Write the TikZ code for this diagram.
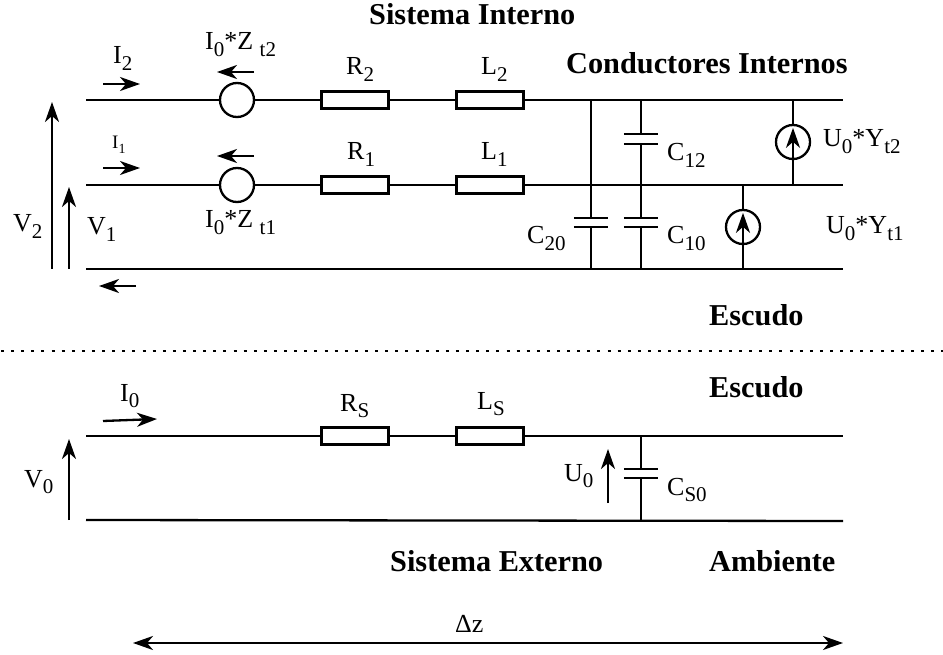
\documentclass[tikz,border=0pt]{standalone}
\usepackage{fontspec}
\setmainfont{Liberation Serif}
\usetikzlibrary{arrows.meta}
\newcommand\subs[1]{\raisebox{-0.25em}{\fontsize{21}{21}\selectfont #1}}
\tikzset{
  wire/.style={line width=2.3pt},
  res/.style={draw,line width=2.3pt,fill=white,minimum width=67pt,minimum height=17pt,inner sep=0pt},
  src/.style={draw,line width=2.3pt,circle,fill=white,minimum size=34pt,inner sep=0pt},
  capbox/.style={minimum width=34pt,minimum height=9pt,inner sep=0pt},
  plate/.style={line width=2.3pt},
  arr/.style={line width=2.3pt,-{Stealth[length=20pt,width=14pt,inset=6pt]}},
  darr/.style={line width=2.3pt,{Stealth[length=20pt,width=14pt,inset=6pt]}-{Stealth[length=20pt,width=14pt,inset=6pt]}},
  lbl/.style={anchor=base west,inner sep=0pt,font=\fontsize{26}{26}\selectfont},
  smalllbl/.style={anchor=base west,inner sep=0pt,font=\fontsize{19}{19}\selectfont},
  head/.style={anchor=base west,inner sep=0pt,font=\fontsize{30.3}{30.3}\selectfont\bfseries},
}
\begin{document}
\begin{tikzpicture}[x=1pt,y=-1pt]
\useasboundingbox (0,0) rectangle (943,655);
% wire ends
\coordinate (a0) at (86,100); \coordinate (a1) at (843,100);
\coordinate (b0) at (86,185); \coordinate (b1) at (843,185);
\coordinate (c0) at (86,269); \coordinate (c1) at (843,269);
\coordinate (d0) at (86,436); \coordinate (d1) at (843,436);
\coordinate (e0) at (86,520); \coordinate (e1) at (843,521);
\coordinate (a591) at (591,100); \coordinate (c591) at (591,269);
\coordinate (a641) at (641,100); \coordinate (b641) at (641,185); \coordinate (c641) at (641,269);
\coordinate (a793) at (793,100); \coordinate (b793) at (793,185);
\coordinate (b743) at (743,185); \coordinate (c743) at (743,269);
\coordinate (d641) at (641,436); \coordinate (e641) at (641,521);
% main wires
\draw[wire] (a0)--(a1);
\draw[wire] (b0)--(b1);
\draw[wire] (c0)--(c1);
\draw[wire] (d0)--(d1);
\draw[wire] (e0)--(e1);
% series elements
\node[src] (z2) at (237,100) {};
\node[src] (z1) at (237,185) {};
\node[res] (r2) at (355,100) {};
\node[res] (l2) at (490,100) {};
\node[res] (r1) at (355,185) {};
\node[res] (l1) at (490,185) {};
\node[res] (rs) at (355,436) {};
\node[res] (ls) at (490,436) {};
% capacitors
\node[capbox] (c20) at (591,222.5) {};
\node[capbox] (c12) at (641,139) {};
\node[capbox] (c10) at (641,222.5) {};
\node[capbox] (cs0) at (641,473.5) {};
\foreach \c/\top/\bot in {c20/a591/c591,c12/a641/b641,c10/b641/c641,cs0/d641/e641}{
  \draw[plate] (\c.north west)--(\c.north east);
  \draw[plate] (\c.south west)--(\c.south east);
  \draw[wire] (\top)--(\c.north);
  \draw[wire] (\c.south)--(\bot);
}
% current sources
\node[src] (y2) at (793,142) {};
\node[src] (y1) at (743,227) {};
\draw[wire] (a793)--(y2.north);
\draw[arr,shorten >=4pt] (b793)--(y2.north);
\draw[wire] (b743)--(y1.north);
\draw[arr,shorten >=4pt] (c743)--(y1.north);
% voltage and current arrows
\coordinate (v2a) at (52,269); \coordinate (v2b) at (52,102);
\coordinate (v1a) at (69,269); \coordinate (v1b) at (69,187);
\coordinate (i2a) at (103,84); \coordinate (i2b) at (140,84);
\coordinate (i1a) at (103,168); \coordinate (i1b) at (140,168);
\coordinate (zt2a) at (254,72); \coordinate (zt2b) at (217,72);
\coordinate (zt1a) at (254,156); \coordinate (zt1b) at (217,156);
\coordinate (ira) at (136,286); \coordinate (irb) at (99,286);
\coordinate (i0a) at (103,421); \coordinate (i0b) at (157,419);
\coordinate (v0a) at (69,520); \coordinate (v0b) at (69,439);
\coordinate (u0a) at (608,503); \coordinate (u0b) at (608,449);
\coordinate (dza) at (133,643); \coordinate (dzb) at (843,643);
\coordinate (dota) at (1,351); \coordinate (dotb) at (943,351);
\draw[arr] (v2a)--(v2b);
\draw[arr] (v1a)--(v1b);
\draw[arr] (i2a)--(i2b);
\draw[arr] (i1a)--(i1b);
\draw[arr] (zt2a)--(zt2b);
\draw[arr] (zt1a)--(zt1b);
\draw[arr] (ira)--(irb);
\draw[arr] (i0a)--(i0b);
\draw[arr] (v0a)--(v0b);
\draw[arr] (u0a)--(u0b);
\draw[darr] (dza)--(dzb);
\draw[line width=2.6pt,dash pattern=on 3pt off 7.11pt] (dota)--(dotb);
% labels
\node[lbl] (t1) at (113,64) {I\subs{2}};
\node[smalllbl] (t2) at (112,149) {I\subs{\fontsize{14}{14}\selectfont 1}};
\node[lbl] (t3) at (205,50) {I\subs{0}*Z \subs{t2}};
\node[lbl] (t4) at (205,228) {I\subs{0}*Z \subs{t1}};
\node[lbl] (t5) at (346,75) {R\subs{2}};
\node[lbl] (t6) at (347,160) {R\subs{1}};
\node[lbl] (t7) at (481,75) {L\subs{2}};
\node[lbl] (t8) at (481,160) {L\subs{1}};
\node[lbl] (t9) at (13,232) {V\subs{2}};
\node[lbl] (t10) at (87,235) {V\subs{1}};
\node[lbl] (t11) at (667,161) {C\subs{12}};
\node[lbl] (t12) at (527,244) {C\subs{20}};
\node[lbl] (t13) at (667,244) {C\subs{10}};
\node[lbl] (t14) at (823,147) {U\subs{0}*Y\subs{t2}};
\node[lbl] (t15) at (826,234) {U\subs{0}*Y\subs{t1}};
\node[lbl] (t16) at (24,487) {V\subs{0}};
\node[lbl] (t17) at (120,401) {I\subs{0}};
\node[lbl] (t18) at (340,411) {R\subs{S}};
\node[lbl] (t19) at (477,409) {L\subs{S}};
\node[lbl] (t20) at (564,481) {U\subs{0}};
\node[lbl] (t21) at (667,495) {C\subs{S0}};
\node[lbl] (t22) at (455,632) {Δz};
\node[head] (h1) at (369,25) {Sistema Interno};
\node[head] (h2) at (566,74) {Conductores Internos};
\node[head] (h3) at (709,326) {Escudo};
\node[head] (h4) at (709,397) {Escudo};
\node[head] (h5) at (390,571) {Sistema Externo};
\node[head] (h6) at (709,571) {Ambiente};
\end{tikzpicture}
\end{document}
